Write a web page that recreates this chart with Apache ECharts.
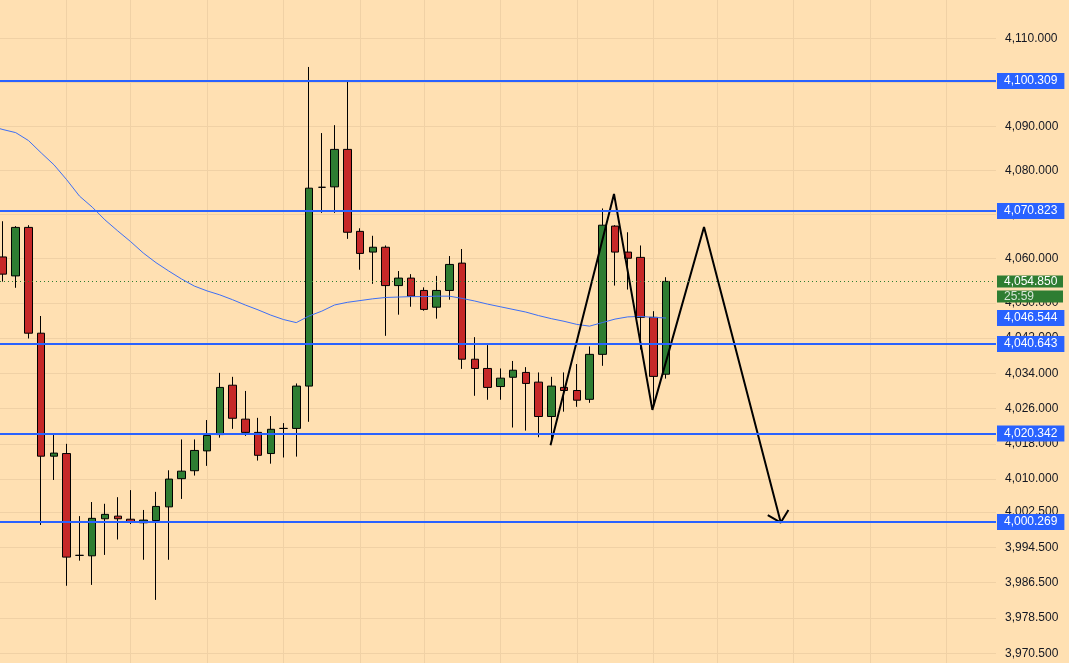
<!DOCTYPE html>
<html>
<head>
<meta charset="utf-8">
<title>Gold 15m</title>
<script src="https://cdn.jsdelivr.net/npm/echarts@6/dist/echarts.min.js"></script>
<style>
    html, body { margin: 0; padding: 0; background: #FFE0B2; }
    #chart { width: 1069px; height: 663px; }
</style>
</head>
<body>
<div id="chart"></div>
<script>
// candles, oldest first
var opens = [4060.4, 4056.1, 4067.1, 4043.1, 4015.2, 4015.8, 3992.7, 3992.6, 4001.0, 4001.6,
    4000.9, 4000.1, 4000.6, 4003.7, 4010.1, 4011.9, 4016.4, 4020.1, 4031.3, 4023.6,
    4020.6, 4015.8, 4021.5, 4021.5, 4031.1, 4076.2, 4076.3, 4084.8, 4066.2, 4061.5,
    4062.6, 4053.9, 4055.6, 4052.8, 4049.0, 4052.8, 4059.0, 4037.2, 4035.1, 4031.0,
    4033.1, 4034.2, 4032.0, 4024.2, 4030.8, 4030.1, 4028.1, 4038.3, 4067.4, 4061.5,
    4060.3, 4046.7, 4033.8];
var closes = [4056.5, 4067.1, 4043.1, 4015.2, 4015.9, 3992.3, 3992.7, 4001.1, 4002.0, 4001.0,
    4000.3, 4000.7, 4003.8, 4010.0, 4011.8, 4016.5, 4019.9, 4030.8, 4023.8, 4020.6,
    4015.4, 4021.3, 4021.5, 4031.1, 4076.0, 4076.2, 4084.8, 4066.0, 4061.2, 4062.6,
    4053.9, 4055.6, 4051.5, 4048.5, 4052.8, 4058.7, 4037.2, 4035.1, 4030.8, 4032.9,
    4034.7, 4031.7, 4024.2, 4031.1, 4030.1, 4027.9, 4038.3, 4067.6, 4061.5, 4060.1,
    4046.7, 4033.3, 4054.85];
var lows = [4054.8, 4053.4, 4041.9, 3999.6, 4009.8, 3985.8, 3991.5, 3986.0, 3992.8, 3996.3,
    3999.8, 3991.7, 3982.6, 3991.7, 4005.5, 4010.8, 4013.0, 4019.4, 4021.4, 4019.8,
    4014.2, 4013.5, 4014.9, 4015.1, 4023.0, 4070.4, 4070.4, 4064.5, 4057.5, 4054.3,
    4042.5, 4047.3, 4049.1, 4048.2, 4046.4, 4050.7, 4035.0, 4028.9, 4028.0, 4028.0,
    4021.7, 4021.0, 4019.5, 4018.6, 4025.3, 4026.4, 4027.3, 4035.7, 4053.9, 4053.0,
    4039.4, 4026.8, 4032.8];
var highs = [4068.5, 4067.4, 4067.6, 4047.0, 4020.2, 4018.0, 4001.6, 4004.8, 4004.4, 4005.9,
    4007.5, 4003.0, 4007.1, 4012.0, 4019.0, 4019.0, 4023.4, 4034.1, 4033.2, 4030.0,
    4023.9, 4024.3, 4022.7, 4031.7, 4103.5, 4088.5, 4090.3, 4100.3, 4066.9, 4065.2,
    4063.0, 4057.2, 4056.5, 4053.5, 4056.1, 4060.6, 4062.2, 4042.2, 4040.4, 4035.1,
    4036.8, 4035.4, 4034.2, 4033.2, 4034.2, 4036.1, 4040.1, 4071.4, 4067.6, 4066.0,
    4063.0, 4048.1, 4055.8];

// moving average line, starts one bar before the first visible candle
var maStart = -1;
var maValues = [4090.1, 4089.3, 4088.6, 4086.8, 4084.0, 4081.3, 4077.9, 4074.2, 4071.7, 4068.8, 4066.3,
    4063.9, 4061.3, 4059.1, 4057.2, 4055.4, 4053.8, 4052.7, 4051.8, 4050.7, 4049.5,
    4048.4, 4047.2, 4046.2, 4045.5, 4047.0, 4048.1, 4049.5, 4050.1, 4050.5, 4050.9,
    4051.2, 4051.3, 4051.4, 4051.4, 4051.5, 4051.5, 4051.0, 4050.4, 4049.7, 4049.1,
    4048.5, 4047.9, 4047.1, 4046.4, 4045.8, 4045.1, 4044.7, 4045.5, 4046.3, 4046.8,
    4046.9, 4046.7, 4046.544];

// drawn levels and price tags
var levels = [4119.75, 4100.309, 4070.823, 4040.643, 4020.342, 4000.269];
var lastPrice = 4054.850;
var maLast = 4046.544;
var countdown = "25:59";

// right scale ticks and vertical grid positions (bar index)
var yTicks = [4110, 4100, 4090, 4080, 4070, 4060, 4050, 4042, 4034, 4026, 4018, 4010,
    4002.5, 3994.5, 3986.5, 3978.5, 3970.5];
var xGrid = [5, 10, 16, 22, 28, 33, 39, 45, 51, 56, 62, 68, 74];

// hand drawn projection (bar index, price)
var zigzag = [[42.94, 4017.7], [47.92, 4074.7], [50.93, 4025.7], [54.98, 4067.2], [61.0, 4000.15]];
var arrowHead = [[59.98, 4001.85], [61.0, 4000.15], [61.6, 4003.0]];

var BLUE = "#2962FF",
    GREEN = "#2E7D32",
    RED = "#C62828",
    FONT = "'Liberation Sans', Arial, sans-serif";

function fmt(v) {
    return v.toLocaleString("en-US", { minimumFractionDigits: 3, maximumFractionDigits: 3 });
}

function tag(v) {
    return {
        show: true,
        position: "end",
        distance: 1,
        formatter: fmt(v),
        color: "#fff",
        backgroundColor: BLUE,
        padding: [2, 7, 2, 7],
        fontSize: 12,
        fontFamily: FONT,
        lineHeight: 12
    };
}

var candleData = opens.map(function(o, i) {
    return [i, o, closes[i], lows[i], highs[i]];
});
var maData = maValues.map(function(v, i) {
    return [i + maStart, v];
});

var levelLines = levels.map(function(v) {
    return {
        yAxis: v,
        lineStyle: { color: BLUE, width: 2, type: "solid" },
        label: tag(v)
    };
});
// current price line with countdown
levelLines.unshift({
    yAxis: lastPrice,
    lineStyle: { color: GREEN, width: 1, type: [1, 3] },
    label: {
        show: true,
        position: "end",
        distance: 1,
        padding: [15, 0, 0, 0],
        formatter: "{p|" + fmt(lastPrice) + "}\n{t|" + countdown + "}",
        rich: {
            p: { color: "#fff", backgroundColor: GREEN, width: 52, padding: [0, 7, 0, 7], lineHeight: 15, fontSize: 12, fontFamily: FONT, align: "left" },
            t: { color: "rgba(255,255,255,0.8)", backgroundColor: GREEN, width: 52, padding: [0, 7, 0, 7], lineHeight: 15, fontSize: 12, fontFamily: FONT, align: "left" }
        }
    }
});

var chart = echarts.init(document.getElementById("chart"));
chart.setOption({
    backgroundColor: "#FFE0B2",
    animation: false,
    grid: { left: 0, right: 73, top: 0, bottom: 0 },
    xAxis: {
        type: "value",
        min: -0.235,
        max: 77.88,
        axisLine: { show: false },
        axisLabel: { show: false },
        axisTick: { show: false, customValues: xGrid },
        splitLine: { show: true, lineStyle: { color: "#F0D1A5", width: 1 } }
    },
    yAxis: {
        type: "value",
        position: "right",
        min: 3968.28,
        max: 4118.69,
        axisLine: { show: false },
        axisTick: { show: false, customValues: yTicks },
        axisLabel: {
            customValues: yTicks,
            formatter: fmt,
            color: "#131722",
            fontSize: 12,
            fontFamily: FONT,
            margin: 9
        },
        splitLine: { show: true, lineStyle: { color: "#F0D1A5", width: 1 } }
    },
    series: [{
        name: "levels",
        type: "line",
        data: [],
        z: 1,
        markLine: {
            silent: true,
            symbol: ["none", "none"],
            animation: false,
            data: levelLines
        }
    }, {
        name: "price",
        type: "candlestick",
        data: candleData,
        encode: { x: 0, y: [1, 2, 3, 4] },
        barWidth: 8,
        z: 2,
        itemStyle: {
            color: GREEN,
            color0: RED,
            borderColor: "#000",
            borderColor0: "#000",
            borderWidth: 1
        }
    }, {
        name: "MA",
        type: "line",
        data: maData,
        symbol: "none",
        z: 3,
        lineStyle: { color: "#3D6FF5", width: 1 },
        markLine: {
            silent: true,
            symbol: ["none", "none"],
            animation: false,
            data: [{ yAxis: maLast, lineStyle: { color: "transparent", width: 0 }, label: tag(maLast) }]
        }
    }, {
        name: "projection",
        type: "line",
        data: zigzag,
        symbol: "none",
        z: 4,
        lineStyle: { color: "#000", width: 2 }
    }, {
        name: "arrow",
        type: "line",
        data: arrowHead,
        symbol: "none",
        z: 4,
        lineStyle: { color: "#000", width: 2 }
    }]
});
</script>
</body>
</html>
